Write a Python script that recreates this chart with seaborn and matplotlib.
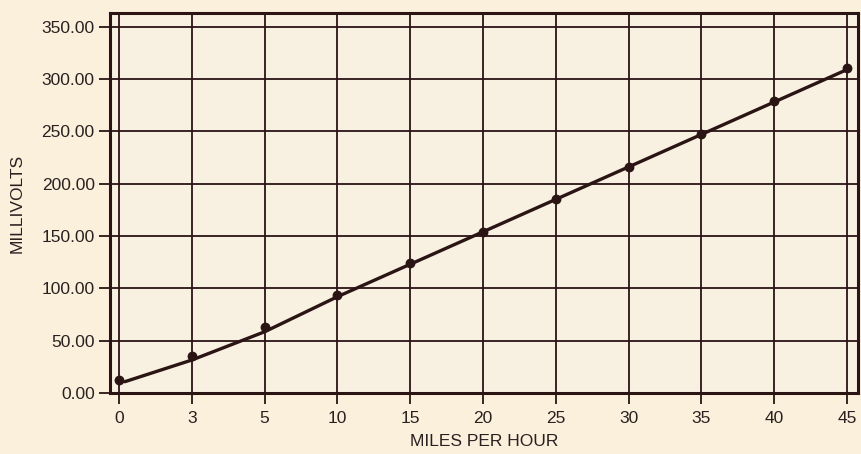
import matplotlib
matplotlib.use("Agg")
import matplotlib.pyplot as plt
import seaborn as sns
import pandas as pd

# Sensor output against wind speed
speeds = ["0", "3", "5", "10", "15", "20", "25", "30", "35", "40", "45"]
measured_mv = [12.5, 35.5, 63.0, 93.5, 124.0, 154.0, 185.5, 216.0, 247.0, 279.0, 310.0]
fitted_mv = [9.0, 31.5, 58.5, 92.0, 123.0, 154.0, 185.0, 216.0, 247.0, 278.0, 309.0]
y_ticks = [0, 50, 100, 150, 200, 250, 300, 350]

ink = "#2b1414"
paper = "#f8f1e2"
page = "#fbf0dc"

sns.set_theme(style="white")
plt.rcParams["font.family"] = ["Liberation Sans", "DejaVu Sans"]

df = pd.DataFrame({
    "pos": range(len(speeds)),
    "speed": speeds,
    "measured": measured_mv,
    "fitted": fitted_mv,
})

fig = plt.figure(figsize=(8.61, 4.54), dpi=100, facecolor=page)
ax = fig.add_axes([110 / 861, 1 - 393 / 454, 748 / 861, 380 / 454])
ax.set_facecolor(paper)

# Fitted curve, starting just right of the first reading
sns.lineplot(data=df, x="pos", y="fitted", ax=ax, color=ink, linewidth=2.4, zorder=3)
line = ax.lines[-1]
xs, ys = line.get_data()
xs = list(xs)
ys = list(ys)
ys[0] = ys[0] + 0.08 * (ys[1] - ys[0]) / (xs[1] - xs[0])
xs[0] = xs[0] + 0.08
line.set_data(xs, ys)

# Measured readings
sns.scatterplot(data=df, x="pos", y="measured", ax=ax, color=ink, s=50,
                edgecolor=ink, linewidth=0, zorder=4)

ax.set_xlim(-0.124, 10.15)
ax.set_ylim(0, 363)
ax.set_xticks(df["pos"])
ax.set_xticklabels(speeds)
ax.set_yticks(y_ticks)
ax.set_yticklabels([f"{v:.2f}" for v in y_ticks])

ax.grid(True, color=ink, linewidth=1.3)
ax.set_axisbelow(True)
for side, sp in ax.spines.items():
    sp.set_visible(True)
    sp.set_color(ink)
    sp.set_linewidth(2.2)

ax.tick_params(axis="both", which="major", direction="out", length=8, width=1.3,
               color=ink, labelcolor="#2a2020", labelsize=12.5, pad=3,
               left=True, bottom=True)
ax.tick_params(axis="x", pad=5)

ax.set_xlabel("MILES PER HOUR", fontsize=12.5, color="#2a2020", labelpad=6)
ax.set_ylabel("MILLIVOLTS", fontsize=12.5, color="#2a2020", labelpad=12)

fig.savefig("out.png", dpi=100, facecolor=page)
